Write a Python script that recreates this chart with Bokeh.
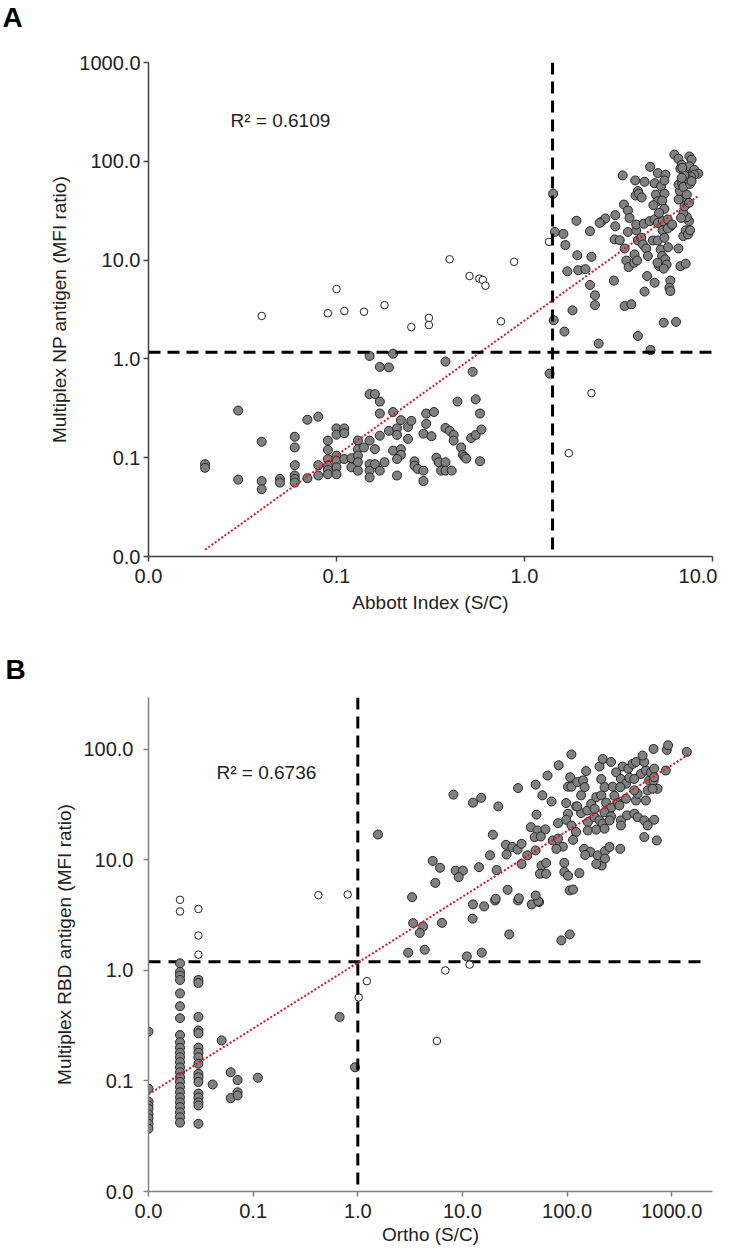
from bokeh.plotting import figure
from bokeh.layouts import column
from bokeh.models import Range1d, FixedTicker, PrintfTickFormatter, Label, Span, Title
from bokeh.embed import file_html
from bokeh.resources import INLINE

# ---------------- Panel A data (Abbott Index vs Multiplex NP) ----------------
a_pos_x = [0.020, 0.020, 0.030, 0.030, 0.040, 0.040, 0.040, 0.050, 0.050,
           0.060, 0.060, 0.060, 0.060, 0.060, 0.060, 0.070, 0.070, 0.080, 0.080, 0.080,
           0.090, 0.090, 0.090, 0.090, 0.090, 0.090, 0.10, 0.11, 0.10, 0.11,
           0.10, 0.10, 0.10, 0.10, 0.11, 0.12, 0.12,
           0.13, 0.13, 0.13, 0.13, 0.13, 0.14,
           0.15, 0.15, 0.16, 0.15, 0.15, 0.15, 0.15, 0.16,
           0.17, 0.19, 0.17, 0.17, 0.17, 0.16, 0.18, 0.17,
           0.20, 0.20, 0.19, 0.21, 0.21, 0.20, 0.22, 0.22, 0.21, 0.21,
           0.22, 0.24, 0.25, 0.24, 0.26, 0.26, 0.27, 0.29, 0.29,
           0.30, 0.33, 0.30, 0.29, 0.32, 0.34, 0.35, 0.38, 0.36, 0.38, 0.41,
           0.38, 0.38, 0.40, 0.42, 0.42, 0.44, 0.46, 0.47, 0.48, 0.49,
           0.53, 0.55, 0.58, 0.52, 0.55, 0.59, 0.58, 1.36,
           1.42, 1.45, 1.61, 1.65, 1.89, 1.91, 1.69, 1.93, 2.11, 2.27, 2.23, 2.23,
           2.37, 2.37, 1.80, 1.43, 1.63, 2.48, 2.56, 2.69, 2.51, 3.04, 3.04, 2.99,
           3.33, 3.38, 3.55, 3.62, 3.02, 3.21, 3.41, 3.48, 3.58, 3.41, 3.70,
           3.55, 3.93, 4.01, 3.88, 4.35, 4.01, 3.90, 4.05, 4.20,
           3.93, 4.31, 4.63, 4.92, 3.85, 4.18, 4.26, 4.44, 4.53, 4.82,
           3.83, 3.97, 4.49, 4.92, 4.35, 4.01, 4.68,
           4.66, 5.12, 5.62, 4.92, 5.33, 5.55, 5.00, 5.55, 5.12, 4.85, 5.40, 5.55, 5.20,
           5.12, 5.44, 5.78, 6.00, 5.44, 5.78, 6.10, 5.12, 5.55,
           5.30, 5.80, 5.40, 5.60, 5.20, 5.10, 5.70, 5.50,
           5.97, 5.90, 5.97, 5.50, 6.40, 6.59,
           7.00, 7.20, 7.40, 7.60, 7.50, 7.30, 7.00, 6.80, 6.75, 7.20,
           7.10, 7.30, 6.90, 6.60, 6.70, 6.60, 6.90, 7.00, 7.30, 7.50, 7.60,
           6.27, 6.59, 6.86, 6.75, 7.08, 7.53, 7.74, 7.53, 8.00, 8.40, 8.00, 7.68,
           7.31, 7.74, 7.08, 6.86, 6.90]
a_pos_y = [0.086, 0.079, 0.30, 0.060, 0.145, 0.058, 0.048, 0.061, 0.056,
           0.163, 0.127, 0.084, 0.066, 0.061, 0.056, 0.242, 0.062, 0.26, 0.084, 0.066,
           0.149, 0.12, 0.097, 0.083, 0.075, 0.068, 0.198, 0.198, 0.171, 0.177,
           0.105, 0.093, 0.080, 0.068, 0.097, 0.099, 0.080,
           0.149, 0.122, 0.105, 0.090, 0.074, 0.127,
           1.07, 0.44, 0.44, 0.149, 0.086, 0.074, 0.063, 0.122,
           0.83, 0.82, 0.37, 0.28, 0.167, 0.086, 0.090, 0.074,
           1.13, 0.29, 0.187, 0.198, 0.17, 0.118, 0.122, 0.107, 0.097, 0.066,
           0.24, 0.205, 0.236, 0.155, 0.092, 0.083, 0.077, 0.074, 0.058,
           0.28, 0.29, 0.22, 0.175, 0.165, 0.100, 0.090, 0.090, 0.074, 0.074, 0.074,
           0.94, 0.20, 0.187, 0.17, 0.149, 0.37, 0.127, 0.107, 0.102, 0.098,
           0.74, 0.39, 0.28, 0.158, 0.17, 0.193, 0.092, 0.71,
           47, 19.3, 18.4, 14.2, 25, 11.2, 7.7, 7.9, 8.1, 10.8, 19.6, 5.6,
           4.4, 3.5, 3.1, 2.46, 1.89, 1.43, 24.4, 26.4, 23.8, 28.5, 22, 6.2,
           72, 36.5, 31.8, 26.7, 16.2, 15.9, 13.1, 9.9, 8.5, 3.43, 3.57,
           19.3, 20, 15.8, 64, 62, 50, 45, 47, 43,
           22.9, 23.3, 24.8, 25.8, 11.4, 16.8, 14.4, 13.1, 11.0, 15.8,
           9.4, 9.9, 6.9, 5.9, 4.8, 1.71, 1.23,
           88, 76, 73, 60, 56, 64, 46, 47, 39.5, 36, 40, 33, 30,
           23.8, 24.8, 25.8, 22, 20, 20.9, 22.9, 15.8, 16.8,
           12.8, 13.5, 11.0, 10.2, 8.7, 9.4, 9.0, 8.2,
           6.2, 5.25, 4.86, 2.33, 2.37, 13.1,
           17.5, 20, 18.2, 20, 24.8, 27.2, 30, 26.7, 8.7, 9.2,
           35, 39.5, 43, 41, 50, 58, 60, 55, 46, 38, 59,
           117, 106, 92, 84, 79, 112, 104, 89, 82, 75, 73, 70,
           67, 63, 72, 68, 86]
a_neg_x = [0.04, 0.10, 0.09, 0.11, 0.14, 0.18, 0.25, 0.31, 0.31, 0.40, 0.51,
           0.575, 0.60, 0.62, 0.75, 0.88, 1.35, 2.27, 1.72]
a_neg_y = [2.72, 5.1, 2.9, 3.05, 3.0, 3.5, 2.1, 2.6, 2.2, 10.2, 6.9,
           6.5, 6.3, 5.5, 2.4, 9.6, 15.3, 0.45, 0.111]
a_trend_x = [0.02, 8.3]
a_trend_y = [0.0117, 44]
a_cut_x = 1.41
a_cut_y = 1.17
a_r2 = "R\u00b2 = 0.6109"
a_ticks_x = [0.01, 0.1, 1, 10]
a_ticks_y = [0.01, 0.1, 1, 10, 100, 1000]

# ---------------- Panel B data (Ortho vs Multiplex RBD) ----------------
b_col1_y = [0.28, 0.085, 0.065, 0.06, 0.056, 0.05, 0.046, 0.041, 0.037]
b_col2_y = [1.16, 0.97, 0.90, 0.82, 0.62, 0.475, 0.37, 0.26, 0.224, 0.20, 0.18, 0.164,
            0.148, 0.133, 0.12, 0.108, 0.098, 0.088, 0.079, 0.071, 0.064, 0.058,
            0.052, 0.047, 0.042]
b_col3_y = [0.82, 0.77, 0.38, 0.286, 0.27, 0.20, 0.18, 0.164, 0.143, 0.116, 0.108,
            0.098, 0.077, 0.071, 0.064, 0.06, 0.041]
b_other_x = [0.050, 0.041, 0.061, 0.071, 0.061, 0.071, 0.071, 0.111, 0.67, 0.94, 1.56,
             3.03, 4.36, 11.0, 15.3, 28, 88, 106,
             3.38, 4.2, 3.91, 6.37, 12.6, 12.5, 16.1, 20.5, 34, 46, 54,
             3.3, 5.5, 5.2, 6.1, 8.6, 10.1, 9.2,
             8.2, 12.6, 15.1, 22, 34, 50, 58, 65, 71, 83, 110,
             102, 110, 107, 125, 142, 152, 147, 136,
             98, 122, 102, 82, 98, 51,
             45, 52, 62, 49, 56, 19.5,
             26, 30, 33.6, 36.7, 18.3, 26.4,
             41.6, 36.7, 50, 14.4, 21.2,
             20.8, 27, 34.6, 53, 50,
             57, 55, 63, 63, 73, 82, 91, 79,
             94, 94, 102, 106, 114,
             110, 122, 114, 131, 145, 167, 149,
             136, 156, 125, 158, 183, 204, 158, 190,
             170, 190, 212, 183, 212, 204, 219, 263,
             228, 273, 283, 236, 263, 305,
             228, 263, 219, 255, 228,
             196, 214, 190, 230, 254, 230, 322,
             294, 340, 384, 327, 365, 393, 322,
             365, 316, 327, 327, 373, 438, 455, 472, 438,
             423, 455, 507, 566, 546, 526, 438,
             472, 546, 546, 719,
             566, 588, 608, 631, 679, 670, 731, 655, 679,
             679, 588, 670, 877, 896, 922, 1390]
b_other_y = [0.233, 0.093, 0.12, 0.102, 0.07, 0.079, 0.074, 0.107, 0.38, 0.133, 17,
             1.45, 1.54, 1.34, 1.45, 2.12, 1.87, 2.12,
             2.68, 2.5, 2.19, 2.7, 3.96, 2.94, 3.8, 4.3, 4.3, 3.96, 4.16,
             4.6, 6.2, 9.8, 8.5, 8.0, 8.0, 7.0,
             39, 33, 36.5, 30.5, 44.7, 48, 38.4, 58, 33.8, 72, 90,
             46, 46, 56, 50.6, 52.4, 63.6, 45.6, 38.4,
             32.7, 30.5, 26.2, 21.5, 23.1, 25.7,
             19.8, 18.5, 18.9, 16.1, 16.3, 16.9,
             13.7, 13.1, 12.4, 14, 11, 11.2,
             11, 9.2, 12.2, 8.6, 8.1,
             4.46, 5.37, 4.5, 4.24, 4.77,
             8.9, 7.5, 9.4, 7.5, 15, 15.6, 13.2, 12.6,
             9.4, 7.8, 7.2, 5.3, 5.4,
             20.5, 17.9, 15.2, 7.6, 12.6, 11.8, 11.1,
             26.5, 28, 30.5, 22, 24.4, 22.8, 18.5, 18.8,
             32.2, 37, 38.4, 29, 54, 70, 82, 77,
             45.6, 46, 38, 33, 29.7, 32.7,
             27, 24.8, 21.3, 22.8, 19.2,
             11, 8.9, 9.2, 12, 13.1, 10.3, 12.6,
             62, 70, 67, 54, 49, 55.4, 45.6,
             35.8, 31.1, 22.8, 20.5, 25.3, 26.2, 34.5, 39.7, 42.6,
             74, 77, 60, 64.5, 77, 88, 54,
             24.4, 22.8, 16.1, 15,
             34.5, 42.6, 52.4, 62, 67, 52, 44, 44, 56,
             23.1, 20.5, 101, 64.5, 99, 109, 95]
b_col1_x = [0.01] * len(b_col1_y)
b_col2_x = [0.02] * len(b_col2_y)
b_col3_x = [0.03] * len(b_col3_y)
b_pos_x = b_col1_x + b_col2_x + b_col3_x + b_other_x
b_pos_y = b_col1_y + b_col2_y + b_col3_y + b_other_y
b_neg_x = [0.02, 0.02, 0.03, 0.03, 0.03, 0.42, 0.80, 1.02, 1.22, 6.85, 11.7, 5.7]
b_neg_y = [4.36, 3.42, 3.6, 2.07, 1.39, 4.8, 4.87, 0.57, 0.80, 1.0, 1.13, 0.23]
b_trend_x = [0.01, 1450]
b_trend_y = [0.0757, 90]
b_cut_x = 1.0
b_cut_y = 1.2
b_hline_x = [0.01, 2000]
b_r2 = "R\u00b2 = 0.6736"
b_ticks_x = [0.01, 0.1, 1, 10, 100, 1000]
b_ticks_y = [0.01, 0.1, 1, 10, 100]

FONT = "Liberation Sans"
TICK_COLOR = "#222222"


def style(p, axis_color, xticks, yticks, xlabel, ylabel, x_standoffs, y_standoffs):
    p.grid.visible = False
    p.outline_line_color = None
    p.xaxis.ticker = FixedTicker(ticks=xticks)
    p.yaxis.ticker = FixedTicker(ticks=yticks)
    for ax, so in ((p.xaxis[0], x_standoffs), (p.yaxis[0], y_standoffs)):
        ax.formatter = PrintfTickFormatter(format="%.1f")
        ax.axis_line_color = axis_color
        ax.axis_line_width = 1.5
        ax.major_tick_line_color = axis_color
        ax.major_tick_line_width = 1.5
        ax.major_tick_out = 5
        ax.major_tick_in = 0
        ax.minor_tick_line_color = None
        ax.major_label_text_font = FONT
        ax.major_label_text_font_size = "20px"
        ax.major_label_text_color = TICK_COLOR
        ax.axis_label_text_font = FONT
        ax.axis_label_text_font_size = "19px"
        ax.axis_label_text_font_style = "normal"
        ax.axis_label_text_color = TICK_COLOR
        ax.major_label_standoff = so[0]
        ax.axis_label_standoff = so[1]
    p.xaxis.axis_label = xlabel
    p.yaxis.axis_label = ylabel


def make_panel(width, height, borders, xr, yr):
    left, right, top, bottom = borders
    return figure(width=width, height=height, x_axis_type="log", y_axis_type="log",
                  x_range=Range1d(*xr), y_range=Range1d(*yr),
                  output_backend="svg", toolbar_location=None,
                  min_border_left=left, min_border_right=right,
                  min_border_top=top, min_border_bottom=bottom)


def panel_letter(text, offset, standoff):
    return Title(text=text, align="left", offset=offset, standoff=standoff,
                 vertical_align="top", text_line_height=0.9,
                 text_font=FONT, text_font_size="28px", text_font_style="bold",
                 text_color="black")


# ---------------- Panel A ----------------
pa = make_panel(717, 618, (148, 2, 62, 62), (0.01, 10), (0.01, 1000))
# a blank second line lifts the letter up towards the top-left corner
pa.title = panel_letter("A\n\u00a0", -146, 0)
style(pa, "#404040", a_ticks_x, a_ticks_y, "Abbott Index (S/C)",
      "Multiplex NP antigen (MFI ratio)", (7, 6), (3, 6))
pa.add_layout(Span(location=a_cut_x, dimension="height", line_color="black",
                   line_width=3, line_dash="12 7"))
pa.add_layout(Span(location=a_cut_y, dimension="width", line_color="black",
                   line_width=3, line_dash="12 7"))
pa.scatter(a_neg_x, a_neg_y, size=7.5, fill_color="white", line_color="#222222", line_width=1)
pa.scatter(a_pos_x, a_pos_y, size=9, fill_color="#808080", line_color="#262626", line_width=1)
pa.line(a_trend_x, a_trend_y, line_color="#e3121b", line_width=2, line_dash="2 2")
pa.add_layout(Label(x=82, y=436, x_units="screen", y_units="screen", text=a_r2,
                    text_font=FONT, text_font_size="19px", text_color=TICK_COLOR,
                    text_baseline="middle"))

# ---------------- Panel B ----------------
pb = make_panel(717, 633, (145, 5, 79, 60), (0.01, 2450), (0.01, 295))
pb.title = panel_letter("B", -143, 22)
style(pb, "#808080", b_ticks_x, b_ticks_y, "Ortho (S/C)",
      "Multiplex RBD antigen (MFI ratio)", (7, 3), (10, 5))
pb.add_layout(Span(location=b_cut_x, dimension="height", line_color="black",
                   line_width=3, line_dash="12 7"))
pb.line(b_hline_x, [b_cut_y, b_cut_y], line_color="black", line_width=3, line_dash="12 8")
pb.scatter(b_neg_x, b_neg_y, size=7.5, fill_color="white", line_color="#222222", line_width=1)
pb.scatter(b_pos_x, b_pos_y, size=9, fill_color="#808080", line_color="#262626", line_width=1)
pb.line(b_trend_x, b_trend_y, line_color="#e3121b", line_width=2, line_dash="2 2")
pb.add_layout(Label(x=68, y=419, x_units="screen", y_units="screen", text=b_r2,
                    text_font=FONT, text_font_size="19px", text_color=TICK_COLOR,
                    text_baseline="middle"))

layout = column(pa, pb)
open("out.html", "w").write(file_html(layout, INLINE))
